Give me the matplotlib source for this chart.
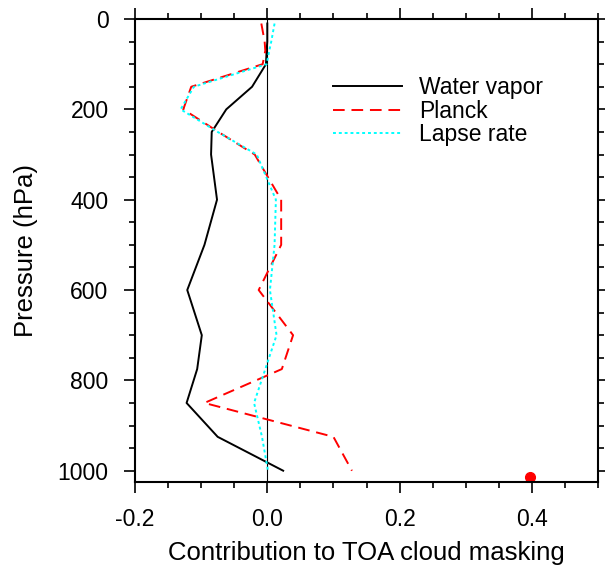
import matplotlib
matplotlib.use("Agg")
import matplotlib.pyplot as plt
from matplotlib.ticker import MultipleLocator, FuncFormatter

plt.rcParams["font.family"] = ["Liberation Sans", "DejaVu Sans"]

# pressure levels (hPa) and contributions to TOA cloud masking
levels = [10, 50, 70, 100, 150, 200, 250, 300, 400, 500, 600, 700, 775, 850, 925, 1000]
water_vapor = [0.000, 0.000, -0.001, -0.002, -0.023, -0.062, -0.084, -0.085, -0.076,
               -0.095, -0.121, -0.099, -0.106, -0.122, -0.075, 0.024]
planck = [-0.009, -0.004, -0.003, -0.007, -0.115, -0.127, -0.074, -0.019, 0.021,
          0.021, -0.013, 0.039, 0.022, -0.095, 0.100, 0.128]
lapse_rate = [0.011, 0.006, 0.003, -0.001, -0.111, -0.131, -0.075, -0.016, 0.013,
              0.011, 0.004, 0.014, -0.003, -0.020, -0.008, 0.001]
total_x = [0.397]
total_p = [1013]

fig = plt.figure(figsize=(6.05, 5.70), dpi=100)
ax = fig.add_axes([135 / 605, 88 / 570, 463 / 605, 463 / 570])

ax.axvline(0.0, color="black", lw=0.8, zorder=1)
ax.plot(water_vapor, levels, color="black", lw=1.4, label="Water vapor")
ax.plot(planck, levels, color="red", lw=1.4, dashes=(6, 3.5), label="Planck")
ax.plot(lapse_rate, levels, color="cyan", lw=1.4, dashes=(1.5, 1.5), label="Lapse rate")
ax.plot(total_x, total_p, "o", color="red", ms=7, clip_on=False)

ax.set_xlim(-0.2, 0.5)
ax.set_ylim(1025, 0)
ax.xaxis.set_major_locator(MultipleLocator(0.2))
ax.xaxis.set_minor_locator(MultipleLocator(0.05))
ax.yaxis.set_major_locator(MultipleLocator(200))
ax.yaxis.set_minor_locator(MultipleLocator(50))
ax.tick_params(which="both", direction="out", top=True, right=True, width=1.2)
ax.tick_params(which="major", length=8, labelsize=16.5, pad=11)
ax.tick_params(which="minor", length=4)
ax.xaxis.set_major_formatter(FuncFormatter(lambda v, p: f"{v:.1f}"))
for s in ax.spines.values():
    s.set_linewidth(1.5)

ax.set_xlabel("Contribution to TOA cloud masking", fontsize=18.5)
ax.set_ylabel("Pressure (hPa)", fontsize=18.5)
ax.xaxis.set_label_coords(0.5, -0.153)
ax.xaxis.label.set_va("center")
ax.yaxis.set_label_coords(-0.236, 0.5)
ax.yaxis.label.set_va("center")

ax.legend(loc="upper left", bbox_to_anchor=(0.428, 0.876), frameon=False, fontsize=16.5,
          handlelength=3.0, handletextpad=0.75, labelspacing=0.02, borderaxespad=0,
          borderpad=0)

fig.savefig("out.png", dpi=100)
